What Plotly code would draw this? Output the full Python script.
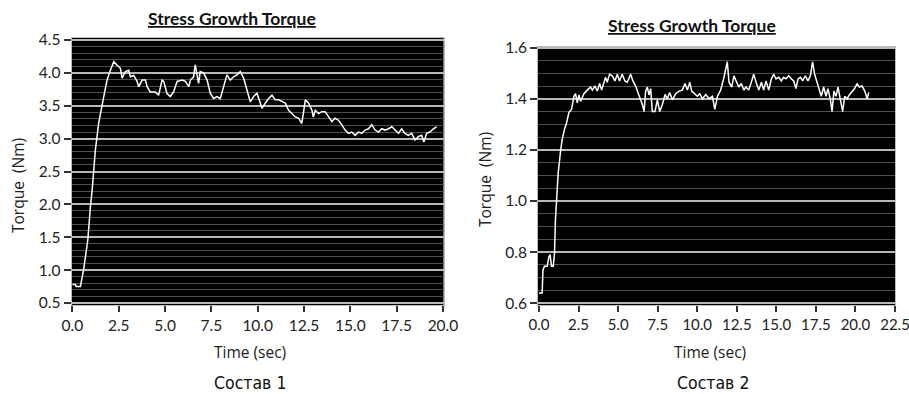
import plotly.graph_objects as go

# ---- data: composition 1 ----
t1 = [0.0, 0.16, 0.2, 0.43, 0.6, 0.83, 0.97, 1.06, 1.24, 1.42, 1.69, 1.87, 2.05, 2.23,
      2.4, 2.59, 2.68, 2.86, 3.04, 3.13, 3.31, 3.49, 3.58, 3.76, 3.94, 4.03, 4.2, 4.47,
      4.65, 4.84, 4.93, 5.1, 5.28, 5.46, 5.65, 5.92, 6.1, 6.28, 6.37, 6.54, 6.63, 6.81,
      6.9, 7.08, 7.27, 7.44, 7.62, 7.8, 7.98, 8.16, 8.34, 8.52, 8.7, 8.88, 9.06, 9.24,
      9.42, 9.6, 9.78, 9.96, 10.14, 10.23, 10.41, 10.59, 10.77, 10.95, 11.13, 11.31,
      11.49, 11.67, 11.85, 12.03, 12.21, 12.38, 12.48, 12.57, 12.75, 12.93, 13.0, 13.11,
      13.29, 13.46, 13.64, 13.82, 14.0, 14.18, 14.36, 14.54, 14.72, 14.9, 15.08, 15.26,
      15.44, 15.62, 15.8, 15.98, 16.16, 16.34, 16.52, 16.7, 16.88, 17.06, 17.24, 17.42,
      17.6, 17.77, 17.95, 18.13, 18.31, 18.49, 18.67, 18.85, 18.97, 19.12, 19.3, 19.48,
      19.66]
v1 = [0.78, 0.78, 0.75, 0.75, 1.0, 1.46, 1.96, 2.2, 2.83, 3.24, 3.64, 3.89, 4.04, 4.17,
      4.12, 4.07, 3.92, 4.02, 4.04, 3.94, 3.96, 3.87, 3.79, 3.89, 3.89, 3.79, 3.71, 3.71,
      3.66, 3.89, 3.87, 3.69, 3.64, 3.71, 3.87, 3.89, 3.87, 3.79, 3.89, 3.94, 4.12, 3.84,
      4.02, 4.0, 3.89, 3.69, 3.61, 3.64, 3.61, 3.79, 3.97, 3.89, 3.94, 3.97, 4.02, 3.92,
      3.74, 3.56, 3.64, 3.69, 3.54, 3.46, 3.54, 3.61, 3.66, 3.59, 3.59, 3.56,
      3.54, 3.43, 3.38, 3.33, 3.31, 3.23, 3.41, 3.59, 3.54, 3.43, 3.33, 3.43,
      3.38, 3.41, 3.41, 3.33, 3.26, 3.31, 3.28, 3.21, 3.13, 3.08, 3.1, 3.05,
      3.1, 3.08, 3.13, 3.15, 3.21, 3.13, 3.1, 3.15, 3.13, 3.15, 3.18, 3.13,
      3.08, 3.15, 3.08, 3.05, 3.08, 2.98, 3.03, 3.05, 2.95, 3.08, 3.1, 3.15,
      3.18]

# ---- data: composition 2 ----
t2 = [0.0, 0.2, 0.25, 0.35, 0.52, 0.62, 0.7, 0.79, 0.9, 0.98, 1.04, 1.1, 1.21, 1.36,
      1.46, 1.63, 1.72, 1.89, 2.06, 2.21, 2.31, 2.42, 2.52, 2.63, 2.84, 3.05, 3.26, 3.37,
      3.54, 3.69, 3.83, 3.96, 4.1, 4.2, 4.31, 4.46, 4.63, 4.8, 4.95, 5.09, 5.26, 5.43,
      5.58, 5.79, 5.94, 6.11, 6.28, 6.42, 6.53, 6.64, 6.74, 6.85, 6.95, 7.06, 7.16, 7.33,
      7.48, 7.63, 7.8, 7.97, 8.11, 8.26, 8.43, 8.64, 8.85, 9.06, 9.23, 9.38, 9.53, 9.65,
      9.8, 10.01, 10.16, 10.33, 10.54, 10.75, 10.96, 11.11, 11.28, 11.48, 11.69, 11.9,
      12.01, 12.18, 12.32, 12.47, 12.62, 12.79, 12.94, 13.08, 13.25, 13.42, 13.57, 13.72,
      13.89, 14.06, 14.2, 14.35, 14.52, 14.69, 14.83, 14.98, 15.15, 15.32, 15.46, 15.61,
      15.78, 15.95, 16.1, 16.24, 16.37, 16.52, 16.66, 16.83, 17.0, 17.15, 17.29, 17.42,
      17.57, 17.72, 17.84, 17.99, 18.14, 18.26, 18.41, 18.52, 18.64, 18.77, 18.9, 19.04,
      19.19, 19.32, 19.47, 19.61, 19.78, 19.95, 20.1, 20.25, 20.42, 20.59, 20.74, 20.84]
v2 = [0.64, 0.64, 0.73, 0.745, 0.745, 0.78, 0.79, 0.745, 0.745, 0.795, 0.926, 0.997,
      1.108, 1.193, 1.239, 1.285, 1.30, 1.346, 1.359, 1.41, 1.42, 1.384, 1.415, 1.39,
      1.42, 1.434, 1.446, 1.434, 1.45, 1.43, 1.46, 1.434, 1.465, 1.484, 1.465, 1.496,
      1.49, 1.47, 1.496, 1.47, 1.496, 1.47, 1.465, 1.496, 1.47, 1.45, 1.42, 1.396,
      1.378, 1.35, 1.43, 1.446, 1.415, 1.44, 1.35, 1.35, 1.396, 1.35, 1.378, 1.417,
      1.40, 1.425, 1.396, 1.42, 1.43, 1.434, 1.46, 1.434, 1.465, 1.43, 1.42, 1.41,
      1.42, 1.40, 1.417, 1.40, 1.41, 1.359, 1.41, 1.434, 1.484, 1.545, 1.465, 1.446,
      1.49, 1.465, 1.446, 1.46, 1.434, 1.446, 1.434, 1.465, 1.496, 1.465, 1.434, 1.465,
      1.434, 1.47, 1.434, 1.478, 1.496, 1.478, 1.484, 1.47, 1.484, 1.478, 1.49, 1.478,
      1.47, 1.44, 1.478, 1.484, 1.47, 1.49, 1.47, 1.49, 1.545, 1.496, 1.465, 1.44,
      1.41, 1.446, 1.41, 1.44, 1.40, 1.35, 1.43, 1.41, 1.446, 1.40, 1.35, 1.41,
      1.40, 1.415, 1.43, 1.44, 1.46, 1.446, 1.45, 1.43, 1.40, 1.425]

# ---- labels ----
chart_title = "Stress Growth Torque"
x_title = "Time (sec)"
y_title = "Torque  (Nm)"
captions = ["Состав 1", "Состав 2"]

W, H = 909, 394
TICK_FONT = dict(family="Lato, Open Sans, sans-serif", size=15.5, color="#222222")
TICK_FONT_R = dict(family="Lato, Open Sans, sans-serif", size=15, color="#222222")
LABEL_FONT = dict(family="Open Sans, Lato, sans-serif", size=15.5, color="#222222")


def px_x(p):
    return p / W


def px_y(p):
    return 1 - p / H


fig = go.Figure()
fig.add_trace(go.Scatter(x=t1, y=v1, mode="lines", line=dict(color="white", width=1.5),
                         xaxis="x", yaxis="y", showlegend=False))
fig.add_trace(go.Scatter(x=t2, y=v2, mode="lines", line=dict(color="white", width=1.5),
                         xaxis="x2", yaxis="y2", showlegend=False))

common_x = dict(showgrid=False, zeroline=False, ticks="outside", ticklen=6, tickwidth=2,
                tickcolor="#333333", dtick=2.5, tick0=0, tickformat=".1f",
                showline=True, linecolor="#bbbbbb", linewidth=1,
                mirror=True, fixedrange=True, automargin=False, ticklabeloverflow="allow")
common_y = dict(zeroline=False, ticks="outside", ticklen=7, tickwidth=2, tickcolor="#333333",
                tickformat=".1f", tickfont=TICK_FONT, showgrid=True, gridcolor="#b8b8b8",
                gridwidth=2, showline=True, linecolor="#bbbbbb", linewidth=1, mirror=True,
                fixedrange=True, automargin=False, ticklabeloverflow="allow")

fig.update_layout(
    width=W, height=H, autosize=False,
    margin=dict(l=0, r=0, t=0, b=0, pad=0),
    paper_bgcolor="white", plot_bgcolor="black",
    xaxis=dict(common_x, tickfont=TICK_FONT, domain=[px_x(71.5), px_x(443.5)],
               range=[-0.05, 20.03], anchor="y"),
    yaxis=dict(common_y, domain=[px_y(305), px_y(38)], range=[0.47, 4.53], dtick=0.5, tick0=0.5,
               minor=dict(dtick=0.1, showgrid=True, gridcolor="#505050", gridwidth=1),
               anchor="x"),
    xaxis2=dict(common_x, tickfont=TICK_FONT_R, domain=[px_x(538), px_x(895)],
                range=[-0.063, 22.5], anchor="y2"),
    yaxis2=dict(common_y, domain=[px_y(305), px_y(46.5)], range=[0.593, 1.6047], dtick=0.2,
                tick0=0.6, minor=dict(dtick=0.05, showgrid=True, gridcolor="#505050", gridwidth=1),
                anchor="x2"),
)

ann = []


def add_text(text, cx, cy, font, angle=0):
    ann.append(dict(text=text, x=px_x(cx), y=px_y(cy), xref="paper", yref="paper",
                    xanchor="center", yanchor="middle", showarrow=False, textangle=angle,
                    font=font))


# chart titles
for cx, cy in [(232, 18), (692, 25)]:
    add_text("<u><b>" + chart_title + "</b></u>", cx, cy,
             dict(family="Lato, Open Sans, sans-serif", size=17.5, color="#111111"))
# x titles
for cx in [250, 710]:
    add_text(x_title, cx, 352, LABEL_FONT)
# y titles
for cx, cy in [(18, 186), (485, 180)]:
    add_text(y_title, cx, cy, LABEL_FONT, angle=-90)
# captions
for cx, cap in zip([250, 713], captions):
    add_text(cap, cx, 383, dict(family="DejaVu Sans Condensed, DejaVu Sans, sans-serif",
                                size=17.5, color="#111111"))
fig.update_layout(annotations=ann)

fig.write_html("out.html", config={"displayModeBar": False},
               post_script="document.body.style.margin='0';")
